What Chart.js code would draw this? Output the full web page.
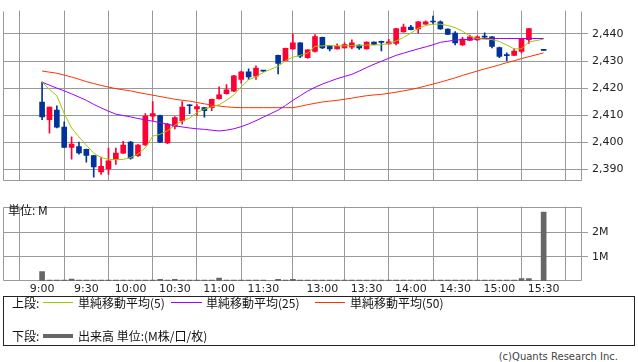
<!DOCTYPE html>
<html>
<head>
<meta charset="utf-8">
<script src="https://cdn.jsdelivr.net/npm/chart.js@4.4.1/dist/chart.umd.min.js"></script>
<style>
  body { margin: 0; background: #fff; width: 638px; height: 362px; position: relative; overflow: hidden;
         font-family: "Noto Sans CJK JP", sans-serif; color: #111; }
  canvas { position: absolute; left: 0; }
  #price { top: 0; }
  #volume { top: 196px; }
  .t { position: absolute; font-size: 12px; line-height: 14px; white-space: nowrap; }
  .ln { position: absolute; height: 1px; }
  #legend { position: absolute; left: 3px; top: 296px; width: 632px; height: 50px; border: 1px solid #222; box-sizing: border-box; }
  #copy { position: absolute; right: 20px; top: 351px; font-family: "DejaVu Sans", sans-serif; font-size: 10px; color: #444; }
</style>
</head>
<body>
<canvas id="price" width="638" height="192"></canvas>
<canvas id="volume" width="638" height="100"></canvas>

<div class="t" style="left:8px; top:203px;">単位: M</div>

<div id="legend"></div>
<div class="t" style="left:12px; top:296px;">上段:</div>
<div class="ln" style="left:43px; top:302px; width:30px; background:#99cc00;"></div>
<div class="t" style="left:78px; top:296px;">単純移動平均(5)</div>
<div class="ln" style="left:171px; top:302px; width:31px; background:#9900ff;"></div>
<div class="t" style="left:206px; top:296px;">単純移動平均(25)</div>
<div class="ln" style="left:315px; top:302px; width:30px; background:#ff3300;"></div>
<div class="t" style="left:350px; top:296px;">単純移動平均(50)</div>
<div class="t" style="left:12px; top:329px;">下段:</div>
<div class="ln" style="left:43px; top:334px; width:30px; height:4px; background:#666;"></div>
<div class="t" style="left:78px; top:329px;">出来高 単位:(M株/口/枚)</div>
<div id="copy">(c)Quants Research Inc.</div>

<script>
// 5-minute candles, index 0 = 9:00, 68 = 15:30 (null = no trade)
const opens = [2414.9,2408.4,2411.9,2405.6,2398.1,2398.4,2397.4,2395.1,2389.1,2390.2,
  2393.7,2396.0,2400.1,2395.1,2399.1,2409.7,2409.9,2399.8,2405.9,2407.9,
  2413.6,2412.3,2412.8,2412.8,2416.1,2418.0,2418.9,2423.2,2426.0,2424.4,
  2426.4,null,2432.1,2430.1,2434.5,2436.7,2431.2,2433.5,2438.7,2435.7,
  2434.5,2434.8,2435.1,2435.9,2434.5,2437.0,2437.0,2436.3,2436.5,2440.7,
  2442.5,2441.8,2443.6,2444.5,2444.5,2441.8,2440.3,2435.9,2437.6,2437.8,
  2438.9,2438.9,2435.0,2432.1,2432.1,2433.5,2437.9,null,2434.0];
const highs = [2422.2,2413.0,2413.5,2407.6,2402.0,2400.1,2397.5,2395.2,2394.6,2397.9,
  2397.9,2400.4,2400.4,2399.3,2410.6,2415.0,2410.1,2407.0,2409.5,2415.0,
  2413.9,2413.9,2412.9,2416.0,2420.5,2421.3,2424.7,2426.3,2427.1,2428.2,
  2426.5,null,2432.2,2434.8,2440.0,2436.8,2434.2,2439.8,2438.8,2435.8,
  2436.3,2436.7,2437.8,2436.0,2437.1,2437.1,2437.4,2438.0,2442.1,2443.6,
  2443.2,2444.6,2444.8,2446.6,2444.8,2441.9,2440.9,2438.7,2439.6,2439.2,
  2440.4,2439.0,2435.1,2433.0,2434.5,2438.2,2442.1,null,2434.0];
const lows = [2408.4,2403.4,2405.3,2398.0,2393.8,2395.6,2392.7,2387.2,2388.2,2388.2,
  2391.9,2395.8,2393.8,2394.8,2398.9,2408.0,2400.0,2399.5,2405.0,2406.7,
  2410.6,2410.0,2409.3,2411.7,2415.9,2417.8,2418.7,2421.8,2423.2,2423.2,
  2426.2,null,2425.2,2430.0,2434.3,2431.2,2431.0,2433.3,2434.6,2433.7,
  2434.4,2434.7,2434.5,2434.3,2434.4,2436.0,2433.7,2436.2,2435.9,2440.6,
  2441.5,2440.3,2443.5,2443.6,2441.7,2439.7,2435.9,2435.8,2437.5,2437.6,
  2438.3,2434.8,2431.2,2430.1,2432.0,2433.0,2436.5,null,2433.9];
const closes = [2409.4,2413.0,2405.6,2398.1,2399.4,2396.1,2395.2,2390.9,2391.2,2393.2,
  2396.0,2399.0,2394.2,2399.0,2409.7,2410.6,2400.1,2406.7,2409.1,2413.0,
  2413.5,2413.2,2411.7,2415.9,2417.5,2419.4,2424.5,2426.0,2424.1,2427.4,
  2426.3,null,2429.1,2434.7,2436.7,2431.8,2434.1,2439.0,2434.8,2434.5,
  2435.4,2436.1,2436.7,2434.8,2437.0,2436.1,2436.9,2437.1,2442.0,2442.5,
  2441.6,2444.5,2444.5,2444.4,2441.8,2439.8,2436.7,2438.1,2438.9,2438.9,
  2438.8,2435.4,2431.7,2432.0,2433.7,2438.1,2442.0,null,2433.9];

const ma5 = [2422.2,2419.5,2417.2,2410.6,2405.3,2402.0,2399.0,2396.0,2394.4,2393.7,
  2393.6,2393.7,2394.4,2395.7,2398.0,2402.3,2403.0,2404.3,2406.3,2407.9,
  2408.9,2411.0,2412.2,2413.1,2413.9,2415.5,2417.5,2420.5,2423.1,2424.2,
  2425.8,null,2428.1,2430.1,2431.4,2432.1,2432.9,2435.4,2435.6,2435.7,
  2435.6,2435.6,2435.7,2435.6,2435.9,2435.9,2436.0,2436.5,2437.4,2438.7,
  2440.3,2442.1,2443.1,2443.6,2443.6,2443.1,2442.3,2441.0,2439.2,2438.3,
  2438.0,2437.9,2437.2,2435.9,2434.5,2434.5,2437.0,null,2438.1];
const ma25 = [2422.2,2421.1,2420.0,2419.0,2417.9,2416.7,2415.5,2414.0,2412.7,2411.5,
  2410.4,2409.9,2409.4,2408.8,2408.3,2407.8,2407.3,2406.7,2406.1,2405.7,
  2405.3,2405.0,2404.8,2404.5,2404.2,2404.5,2405.0,2405.8,2406.8,2408.0,
  2409.3,null,2411.9,2413.6,2415.5,2417.2,2418.9,2420.3,2421.5,2422.5,
  2423.5,2424.3,2425.1,2426.3,2427.6,2428.8,2429.9,2431.0,2432.1,2432.9,
  2433.7,2434.5,2435.2,2436.0,2436.9,2437.3,2437.7,2437.9,2438.0,2438.2,
  2438.3,2438.3,2438.3,2438.3,2438.3,2438.3,2438.3,null,2438.3];
const ma50 = [2426.3,2425.9,2425.5,2424.8,2424.1,2423.3,2422.4,2421.7,2421.0,2420.4,
  2419.8,2419.4,2419.0,2418.4,2417.9,2417.4,2416.9,2416.4,2415.9,2415.5,
  2415.2,2414.7,2414.2,2413.8,2413.4,2413.1,2412.9,2412.8,2412.8,2412.8,
  2412.8,null,2412.8,2412.8,2412.8,2413.3,2413.9,2414.4,2414.9,2415.2,
  2415.5,2415.9,2416.3,2416.8,2417.2,2417.5,2417.7,2418.1,2418.5,2419.0,
  2419.5,2420.1,2420.8,2421.5,2422.2,2423.0,2423.8,2424.7,2425.5,2426.3,
  2427.1,2427.8,2428.6,2429.4,2430.1,2430.9,2431.6,null,2433.0];

// volume in millions
const volumes = [0.39,0.04,0.04,0.04,0.08,0.04,0.04,0.04,0.04,0.04,
  0.04,0.04,0.04,0.04,0.04,0.04,0.07,0.04,0.07,0.04,
  0.04,0.04,0.04,0.04,0.12,0.04,0.04,0.04,0.04,0.04,
  0.04,0,0.07,0.04,0.07,0.04,0.04,0.04,0.04,0.04,
  0.04,0.04,0.04,0.04,0.04,0.04,0.04,0.04,0.04,0.04,
  0.04,0.04,0.04,0.04,0.04,0.04,0.04,0.04,0.04,0.04,
  0.04,0.04,0.04,0.04,0.04,0.1,0.1,0,2.84];

const timeTicks = [0,6,12,18,24,30,38,44,50,56,62,68];
const timeLabels = ["9:00","9:30","10:00","10:30","11:00","11:30","13:00","13:30","14:00","14:30","15:00","15:30"];
const priceTicks = [2390,2400,2410,2420,2430,2440];
const volTicks = [1,2];

const UP = "#ff0033", DOWN = "#003399", GRID = "#999";
const X_MIN = -5.3, X_MAX = 73.2;

const idx = opens.map((_, i) => i).filter(i => opens[i] !== null);
const colorOf = i => closes[i] >= opens[i] ? UP : DOWN;
const pts = arr => arr.map((v, i) => ({ x: i, y: v }));
const comma = v => String(v).replace(/\B(?=(\d{3})+(?!\d))/g, ",");

// grey frame round the plot area (left, right, bottom; top optional)
const frame = (withTop) => ({
  id: "frame",
  beforeDatasetsDraw(chart) {
    const { ctx, chartArea: a } = chart;
    const l = Math.round(a.left) + 0.5, r = Math.round(a.right) - 0.5;
    const t = Math.round(a.top) + 0.5, b = Math.round(a.bottom) - 0.5;
    ctx.save();
    ctx.strokeStyle = GRID;
    ctx.lineWidth = 1;
    ctx.beginPath();
    if (withTop) { ctx.moveTo(l, t); ctx.lineTo(r, t); }
    ctx.moveTo(l, t); ctx.lineTo(l, b); ctx.lineTo(r, b); ctx.lineTo(r, t);
    ctx.stroke();
    ctx.restore();
  }
});

const tickFont = { family: "DejaVu Sans", size: 11 };

new Chart(document.getElementById("price"), {
  data: {
    datasets: [
      { type: "line", data: pts(ma5), borderColor: "#99cc00", borderWidth: 1, pointRadius: 0, spanGaps: true, order: 1 },
      { type: "line", data: pts(ma25), borderColor: "#9900ff", borderWidth: 1, pointRadius: 0, spanGaps: true, order: 1 },
      { type: "line", data: pts(ma50), borderColor: "#ff3300", borderWidth: 1, pointRadius: 0, spanGaps: true, order: 1 },
      {
        type: "bar", order: 2, grouped: false, barThickness: 5, minBarLength: 1,
        data: idx.map(i => ({ x: i, y: [opens[i], closes[i]] })),
        backgroundColor: c => colorOf(c.raw.x)
      },
      {
        type: "bar", order: 3, grouped: false, barThickness: 1,
        data: idx.map(i => ({ x: i, y: [lows[i], highs[i]] })),
        backgroundColor: c => colorOf(c.raw.x)
      }
    ]
  },
  options: {
    responsive: false,
    animation: false,
    layout: { padding: { left: 3, right: 0, top: 0, bottom: 1 } },
    plugins: { legend: { display: false }, tooltip: { enabled: false } },
    scales: {
      x: {
        type: "linear", min: X_MIN, max: X_MAX, offset: false,
        afterBuildTicks: s => { s.ticks = timeTicks.map(v => ({ value: v })); },
        afterFit: s => { s.height = 0; },
        ticks: { display: false },
        grid: { color: GRID, drawTicks: false },
        border: { display: false }
      },
      y: {
        position: "right", min: 2385.6, max: 2448.6,
        afterBuildTicks: s => { s.ticks = priceTicks.map(v => ({ value: v })); },
        afterFit: s => { s.width = 56; },
        ticks: { padding: 4, color: "#222", font: tickFont, callback: v => comma(v) },
        grid: { color: GRID, tickLength: 6 },
        border: { display: false }
      }
    }
  },
  plugins: [frame(false)]
});

new Chart(document.getElementById("volume"), {
  type: "bar",
  data: {
    datasets: [{
      data: pts(volumes), backgroundColor: "#666", barThickness: 5
    }]
  },
  options: {
    responsive: false,
    animation: false,
    layout: { padding: { left: 3, right: 0, top: 6, bottom: 0 } },
    plugins: { legend: { display: false }, tooltip: { enabled: false } },
    scales: {
      x: {
        type: "linear", min: X_MIN, max: X_MAX, offset: false,
        afterBuildTicks: s => { s.ticks = timeTicks.map(v => ({ value: v })); },
        afterFit: s => { s.height = 15; },
        ticks: {
          autoSkip: false, maxRotation: 0, padding: 2, color: "#222", font: tickFont,
          callback: v => timeLabels[timeTicks.indexOf(v)]
        },
        grid: { color: GRID, drawTicks: false },
        border: { display: false }
      },
      y: {
        position: "right", min: 0, max: 3.07,
        afterBuildTicks: s => { s.ticks = volTicks.map(v => ({ value: v })); },
        afterFit: s => { s.width = 56; },
        ticks: { padding: 4, color: "#222", font: tickFont, callback: v => v + "M" },
        grid: { color: GRID, tickLength: 6 },
        border: { display: false }
      }
    }
  },
  plugins: [frame(true)]
});
</script>
</body>
</html>
